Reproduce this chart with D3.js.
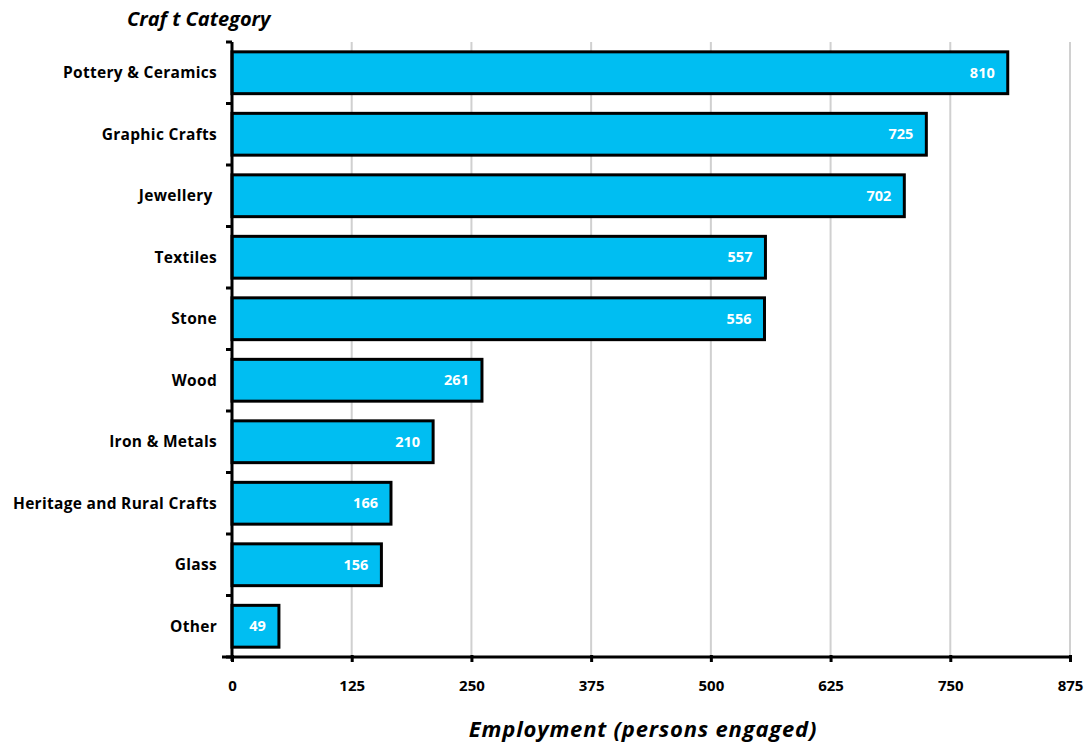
<!DOCTYPE html>
<html>
<head>
<meta charset="utf-8">
<script src="https://cdn.jsdelivr.net/npm/d3@7"></script>
<style>
  body { margin: 0; background: #fff; }
  svg text { font-family: "Open Sans", Lato, sans-serif; font-weight: bold; }
</style>
</head>
<body>
<div id="chart"></div>
<script>
var categories = ["Pottery & Ceramics", "Graphic Crafts", "Jewellery ", "Textiles", "Stone",
  "Wood", "Iron & Metals", "Heritage and Rural Crafts", "Glass", "Other"];
var values = [810, 725, 702, 557, 556, 261, 210, 166, 156, 49];
var xTicks = [0, 125, 250, 375, 500, 625, 750, 875];

var width = 1090, height = 743,
  margin = { top: 42, right: 20, bottom: 86, left: 232 },
  innerW = 1070 - margin.left,
  innerH = height - margin.top - margin.bottom;

var svg = d3.select("#chart").append("svg")
  .attr("width", width)
  .attr("height", height);

var g = svg.append("g")
  .attr("transform", "translate(" + margin.left + "," + margin.top + ")");

var x = d3.scaleLinear().domain([0, 875]).range([0, innerW]);
var y = d3.scaleBand().domain(categories).range([0, innerH]).paddingInner(0.32).paddingOuter(0.16);

// gridlines
g.selectAll(".grid").data(xTicks.slice(1))
  .enter().append("line")
  .attr("x1", function(d) { return x(d); })
  .attr("x2", function(d) { return x(d); })
  .attr("y1", 0).attr("y2", innerH)
  .attr("stroke", "#d0d0d0").attr("stroke-width", 2);

// bars
g.selectAll(".bar").data(values)
  .enter().append("rect")
  .attr("x", 0)
  .attr("y", function(d, i) { return y(categories[i]); })
  .attr("width", function(d) { return x(d); })
  .attr("height", y.bandwidth())
  .attr("fill", "#00bef2")
  .attr("stroke", "#000").attr("stroke-width", 3);

// value labels
g.selectAll(".val").data(values)
  .enter().append("text")
  .attr("x", function(d) { return x(d) - 13; })
  .attr("y", function(d, i) { return y(categories[i]) + y.bandwidth() / 2; })
  .attr("dy", ".35em")
  .attr("text-anchor", "end")
  .attr("fill", "#fff")
  .style("font-size", "14.5px")
  .text(function(d) { return d; });

// y axis: ticks at band boundaries
var yAxis = g.append("g");
yAxis.append("line")
  .attr("x1", 0).attr("x2", 0).attr("y1", 0).attr("y2", innerH + 4)
  .attr("stroke", "#000").attr("stroke-width", 3);
var step = innerH / categories.length;
yAxis.selectAll(".yt").data(d3.range(categories.length + 1))
  .enter().append("line")
  .attr("x1", -6).attr("x2", 0)
  .attr("y1", function(d) { return d * step; })
  .attr("y2", function(d) { return d * step; })
  .attr("stroke", "#000").attr("stroke-width", 3);
yAxis.selectAll(".yl").data(categories)
  .enter().append("text")
  .attr("x", -15)
  .attr("y", function(d) { return y(d) + y.bandwidth() / 2; })
  .attr("dy", ".35em")
  .attr("text-anchor", "end")
  .attr("fill", "#000")
  .style("font-size", "15.5px")
  .style("letter-spacing", "0.3px")
  .style("white-space", "pre")
  .text(function(d) { return d; });

// x axis
var xAxis = g.append("g").attr("transform", "translate(0," + innerH + ")")
  .call(d3.axisBottom(x).tickValues(xTicks).tickSize(5).tickPadding(18).tickFormat(d3.format("d")));
xAxis.select(".domain").attr("stroke-width", 3).attr("d", "M-10,0H" + innerW);
xAxis.selectAll(".tick line").attr("stroke-width", 3).attr("y1", -2);
xAxis.selectAll(".tick text").style("font-size", "15px").attr("fill", "#000");

// titles
svg.append("text")
  .attr("x", 127).attr("y", 26)
  .attr("font-style", "italic")
  .style("font-size", "20px")
  .text("Craf t Category");

svg.append("text")
  .attr("x", 643).attr("y", 737)
  .attr("text-anchor", "middle")
  .attr("font-style", "italic")
  .style("font-size", "22px")
  .style("letter-spacing", "0.8px")
  .text("Employment (persons engaged)");
</script>
</body>
</html>
